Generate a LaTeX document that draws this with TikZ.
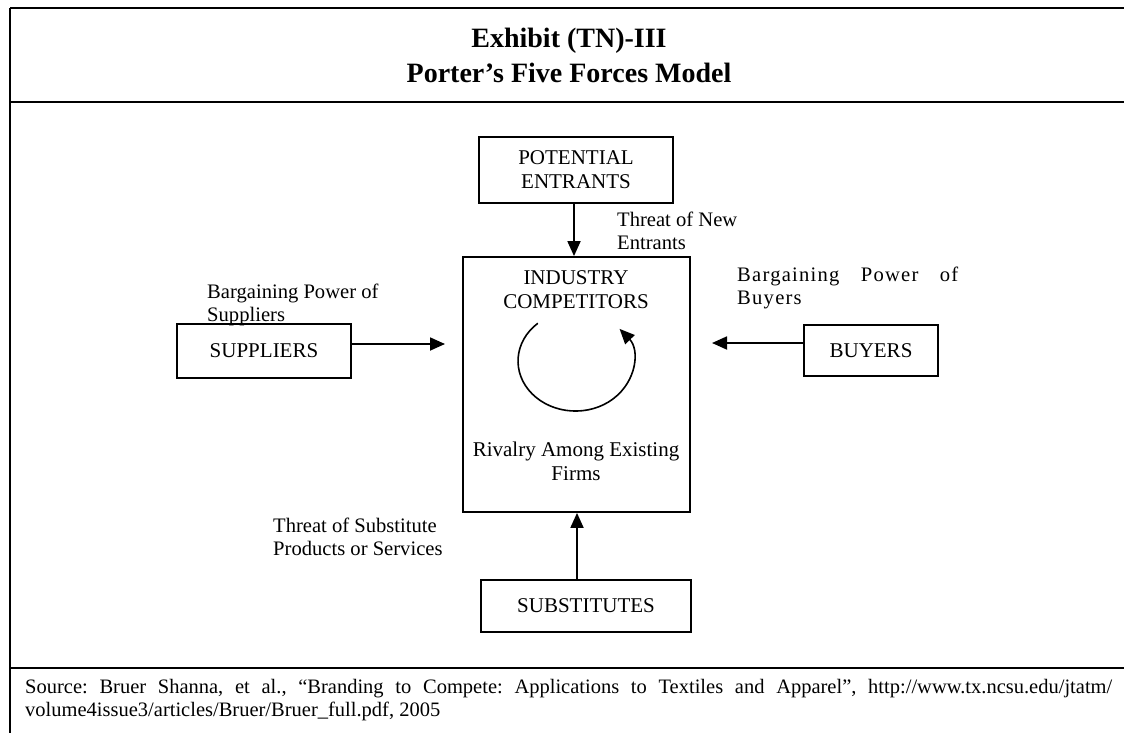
\documentclass[tikz,border=0pt]{standalone}
\usepackage{fontspec}
\setmainfont{Liberation Serif}
\usetikzlibrary{arrows.meta}
\frenchspacing
\begin{document}
\begin{tikzpicture}[x=1pt,y=-1pt,
  framerule/.style={line width=2.2pt},
  forcebox/.style={draw, line width=1.8pt, inner sep=0pt, align=center, font=\fontsize{21}{24}\selectfont},
  txt/.style={inner sep=0pt, align=center, font=\fontsize{21}{24}\selectfont},
  lbl/.style={inner sep=0pt, align=left, anchor=west, font=\fontsize{20.6}{23}\selectfont\frenchspacing},
  arr/.style={line width=1.8pt, -{Triangle[length=15pt,width=13pt]}}]
\useasboundingbox (0,0) rectangle (1124,733);
\fill[white] (0,0) rectangle (1124,733);
% frame
\draw[framerule] (10,8) -- (1124,8);
\draw[framerule] (10,8) -- (10,733);
\draw[framerule] (10,102) -- (1124,102);
\draw[framerule] (10,668) -- (1124,668);
% title
\node[inner sep=0pt, align=center, font=\fontsize{28}{35}\selectfont\bfseries] (title) at (569,55) {Exhibit (TN)-III\\Porter’s Five Forces Model};
% boxes
\node[forcebox, minimum width=194pt, minimum height=66pt] (pe) at (576,170) {POTENTIAL\\ENTRANTS};
\node[forcebox, minimum width=227pt, minimum height=255pt] (ic) at (576.5,384.5) {};
\node[forcebox, minimum width=174pt, minimum height=54pt] (sup) at (264,351) {SUPPLIERS};
\node[forcebox, minimum width=134pt, minimum height=51pt] (buy) at (871,350.5) {BUYERS};
\node[forcebox, minimum width=210pt, minimum height=52pt] (sub) at (586,606) {SUBSTITUTES};
% texts in industry box
\node[txt] (ictxt) at (576,290) {INDUSTRY\\COMPETITORS};
\node[txt] (riv) at (576,461) {Rivalry Among Existing\\Firms};
% labels
\node[lbl] (tne) at (617,231) {Threat of New\\Entrants};
\node[lbl] (bps) at (207,305) {Bargaining Power of\\Suppliers};
\node[lbl, text width=221pt, align=justify] (bpb) at (737,288) {\addfontfeature{LetterSpace=6}Bargaining Power of\linebreak Buyers};
\node[lbl] (tsp) at (273,537) {Threat of Substitute\\Products or Services};
\node[lbl, text width=1087pt, align=justify, font=\fontsize{20.5}{23}\selectfont\frenchspacing] (src) at (25,700) {Source: Bruer Shanna, et al., “Branding to Compete: Applications to Textiles and Apparel”, http://www.tx.ncsu.edu/jtatm/\linebreak volume4issue3/articles/Bruer/Bruer\_full.pdf, 2005};
% arrows
\coordinate (supTip) at (445,344);
\coordinate (buyTip) at (712,343);
\draw[arr] ([xshift=-2pt]pe.south) -- ([xshift=-2pt]pe.south |- ic.north);
\draw[arr] ([xshift=-9pt]sub.north) -- ([xshift=-9pt]sub.north |- ic.south);
\draw[arr] (sup.east |- supTip) -- (supTip);
\draw[arr] (buy.west |- buyTip) -- (buyTip);
% rivalry loop
\draw[arr, line width=1.6pt] (537.8,323.3) arc[start angle=131, end angle=400, x radius=57.5pt, y radius=50pt];
\end{tikzpicture}
\end{document}
